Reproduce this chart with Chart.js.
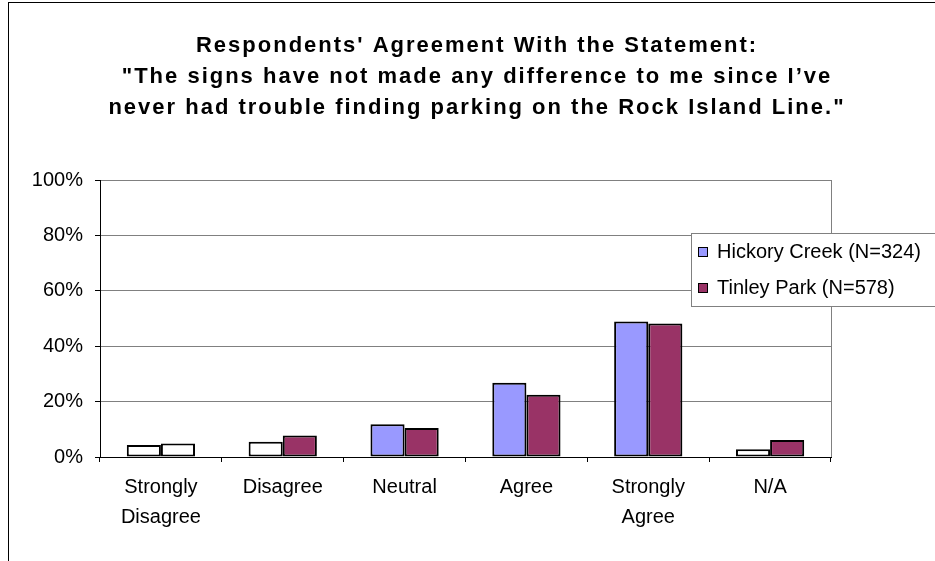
<!DOCTYPE html>
<html>
<head>
<meta charset="utf-8">
<script src="https://cdn.jsdelivr.net/npm/chart.js@4.4.1/dist/chart.umd.min.js"></script>
<style>
  html, body { margin: 0; padding: 0; background: #fff; }
  #wrap { width: 935px; height: 561px; }
</style>
</head>
<body>
<div id="wrap"><canvas id="graf" width="935" height="561"></canvas></div>
<script>
const titleLines = [
    "Respondents' Agreement With the Statement:",
    "\"The signs have not made any difference to me since I\u2019ve",
    "never had trouble finding parking on the Rock Island Line.\""
];
const categories = [["Strongly", "Disagree"], "Disagree", "Neutral", "Agree", ["Strongly", "Agree"], "N/A"];
const hickoryCreek = [4.3, 5.5, 11.8, 26.8, 48.9, 2.8];
const tinleyPark = [4.9, 7.8, 10.5, 22.5, 48.2, 6.1];
const seriesNames = ["Hickory Creek (N=324)", "Tinley Park (N=578)"];
const yTicks = [0, 20, 40, 60, 80, 100];

const FONT = "'Liberation Sans', Arial, sans-serif";

// frame, title, plot border and legend box
const decor = {
    id: "decor",
    beforeDatasetsDraw(chart) {
        const { ctx, chartArea } = chart;
        ctx.save();
        ctx.strokeStyle = "#808080";
        ctx.lineWidth = 1;
        ctx.beginPath();
        ctx.moveTo(Math.round(chartArea.right) + 0.5, chartArea.top);
        ctx.lineTo(Math.round(chartArea.right) + 0.5, chartArea.bottom);
        ctx.stroke();
        ctx.restore();
    },
    afterDraw(chart) {
        const ctx = chart.ctx;
        ctx.save();
        // outer frame (right and bottom edges fall outside the picture)
        ctx.strokeStyle = "#000";
        ctx.lineWidth = 1;
        ctx.strokeRect(8.5, 2.5, 940, 570);

        // title
        ctx.fillStyle = "#000";
        ctx.font = "bold 22px " + FONT;
        ctx.textAlign = "center";
        ctx.textBaseline = "alphabetic";
        if ("letterSpacing" in ctx) ctx.letterSpacing = "2px";
        titleLines.forEach((t, i) => ctx.fillText(t, 477, 52 + i * 31));
        if ("letterSpacing" in ctx) ctx.letterSpacing = "0px";

        // legend
        ctx.fillStyle = "#fff";
        ctx.fillRect(691, 233, 260, 74);
        ctx.strokeStyle = "#808080";
        ctx.strokeRect(691.5, 233.5, 260, 73);
        ctx.font = "20px " + FONT;
        ctx.textAlign = "left";
        ctx.textBaseline = "middle";
        chart.data.datasets.forEach((ds, i) => {
            const y = 252 + i * 36;
            ctx.fillStyle = ds.legendColor;
            ctx.fillRect(698, y - 5, 10, 10);
            ctx.strokeStyle = "#000";
            ctx.strokeRect(698.5, y - 4.5, 9, 9);
            ctx.fillStyle = "#000";
            ctx.fillText(ds.label, 717, y);
        });
        ctx.restore();
    }
};

const ctx = document.getElementById("graf").getContext("2d");
new Chart(ctx, {
    type: "bar",
    data: {
        labels: categories,
        datasets: [
            {
                label: seriesNames[0],
                data: hickoryCreek,
                backgroundColor: ["#ffffff", "#ffffff", "#9999ff", "#9999ff", "#9999ff", "#ffffff"],
                legendColor: "#9999ff",
                borderColor: "#000",
                borderWidth: 2,
                borderSkipped: false,
                categoryPercentage: 0.56,
                barPercentage: 1.0
            },
            {
                label: seriesNames[1],
                data: tinleyPark,
                backgroundColor: ["#ffffff", "#993366", "#993366", "#993366", "#993366", "#993366"],
                legendColor: "#993366",
                borderColor: "#000",
                borderWidth: 2,
                borderSkipped: false,
                categoryPercentage: 0.56,
                barPercentage: 1.0
            }
        ]
    },
    options: {
        responsive: false,
        animation: false,
        layout: { padding: { left: 0, right: 104, top: 180, bottom: 0 } },
        plugins: {
            legend: { display: false },
            title: { display: false },
            tooltip: { enabled: false }
        },
        scales: {
            x: {
                offset: true,
                grid: {
                    offset: true,
                    drawOnChartArea: false,
                    drawTicks: true,
                    tickLength: 5,
                    tickColor: "#000"
                },
                border: { color: "#000", width: 1 },
                ticks: {
                    color: "#000",
                    font: { family: FONT, size: 20, lineHeight: 1.5 },
                    padding: 10,
                    maxRotation: 0,
                    autoSkip: false
                },
                afterFit(scale) { scale.height = 104; }
            },
            y: {
                min: 0,
                max: 100,
                afterBuildTicks(scale) { scale.ticks = yTicks.map(v => ({ value: v })); },
                grid: {
                    color: "#808080",
                    tickColor: "#000",
                    tickLength: 5
                },
                border: { color: "#000", width: 1 },
                ticks: {
                    color: "#000",
                    font: { family: FONT, size: 20 },
                    padding: 12,
                    callback: v => v + "%"
                },
                afterFit(scale) { scale.width = 100; }
            }
        }
    },
    plugins: [decor]
});
</script>
</body>
</html>
